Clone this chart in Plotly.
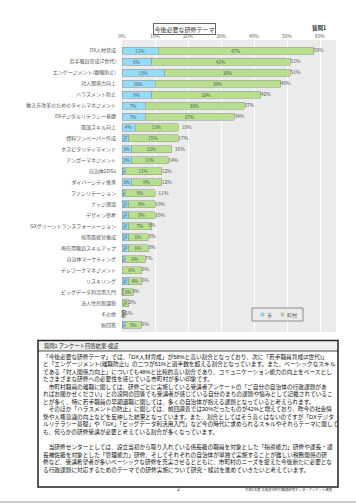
import plotly.graph_objects as go

W, H = 356, 504

categories = [
    "DX人材育成", "若手職員育成(Z世代)", "エンゲージメント(離職防止)", "対人関係力向上",
    "ハラスメント防止", "働き方改革のためのタイムマネジメント", "DXデジタルリテラシー基礎",
    "面談スキル向上", "資料ワンペーパー作成", "ホスピタリティマインド", "アンガーマネジメント",
    "自治体SDGs", "ダイバーシティ推進", "ファシリテーション", "ナッジ理論", "デザイン思考",
    "GXグリーントランスフォーメーション", "採用面接官養成", "再任用職員スキルアップ",
    "自治体マーケティング", "テレワークマネジメント", "リスキリング", "ビッグデータ利活用入門",
    "法人住民税課税", "その他", "無回答",
]
city = [11, 9, 13, 10, 9, 7, 7, 4, 2, 3, 3, 1, 3, 1, 2, 2, 2, 2, 2, 1, 0, 2, 0.4, 0, 0.5, 1]
town = [47, 42, 38, 38, 33, 30, 27, 13, 15, 12, 11, 11, 9, 9, 8, 8, 7, 6, 6, 6, 6, 4, 3, 2, 0.5, 5]
total = [58, 51, 51, 48, 42, 37, 34, 18, 17, 16, 14, 12, 12, 11, 10, 10, 8, 8, 8, 7, 6, 6, 3, 2, 1, 6]
x_ticks = [0, 10, 20, 30, 40, 50, 60]
series_names = ["市", "町村"]
series_colors = ["#94dcf8", "#b8df8e"]

body_lines = [
    "「今後必要な研修テーマ」では、「DX人材育成」が58%と高い割合となっており、次に「若手職員育成(Z世代)」",
    "と「エンゲージメント(離職防止)」の二つが51%と過半数を超える割合となっています。また、ベーシックなスキル",
    "である「対人関係力向上」についても48%と比較的高い割合であり、コミュニケーション能力の向上をベースとし",
    "たさまざまな研修への必要性を感じている市町村が多い印象です。",
    "　市町村職員の離職に関しては、研修ごとに実施している受講者アンケートの「ご自分の自治体の行政課題があ",
    "ればお聞かせください」との設問の回答でも受講者が感じている自分のまちの課題や悩みとして記載されているこ",
    "とが多く、特に若手職員の早期退職に関しては、多くの自治体が抱える課題となっていると考えられます。",
    "　そのほか「ハラスメントの防止」に関しては、前回調査では30%だったものが42%と増えており、昨今の社会情",
    "勢や人権意識の向上などを反映した結果となっています。また、割合としてはそう高くはないのですが「DXデジタ",
    "ルリテラシー基礎」や「GX」「ビッグデータ利活用入門」など今の時代に求められるスキルやそれらテーマに関して",
    "も、何らかの研修受講が必要と考えている割合が多くなっています。",
    "",
    "　当研修センターとしては、設立当初から取り入れている係長級の職員を対象とした「指導能力」研修や課長・課",
    "長補佐級を対象とした「管理能力」研修、そしてそれぞれの自治体が単独で実施することが難しい税務関係の研",
    "修など、受講希望者が多いベーシックな研修を充実させるとともに、市町村のニーズを捉えた今後新たに必要とな",
    "る行政課題に対応するためのテーマでの研修実施について研究・検討を進めていきたいと考えています。",
]

FONT = "Noto Sans CJK JP"
BODY_FONT = "Liberation Sans, Noto Sans CJK JP"


def px(x):
    return x / W


def py(y):
    return 1 - y / H


def pct_text(vals):
    return ["" if v <= 0 else f"{round(v) if v >= 0.5 else 0}%" for v in vals]


fig = go.Figure()
for vals, name, col, lc in [(city, series_names[0], series_colors[0], "#8a9aa3"),
                            (town, series_names[1], series_colors[1], "#98a38c")]:
    fig.add_trace(go.Bar(
        y=categories, x=vals, orientation="h", name=name, showlegend=False,
        marker=dict(color=col, line=dict(color=lc, width=0.6)),
        text=pct_text(vals), textposition="inside", insidetextanchor="middle",
        textfont=dict(size=4.6, color="#555555", family=FONT),
        constraintext="none", cliponaxis=False,
    ))
fig.add_trace(go.Scatter(
    y=categories, x=total, mode="text", showlegend=False,
    text=[f"{t}%" for t in total], textposition="middle right",
    textfont=dict(size=5, color="#555555", family=FONT), cliponaxis=False,
    hoverinfo="skip",
))

fig.update_layout(
    width=W, height=H, margin=dict(l=0, r=0, t=0, b=0, autoexpand=False),
    paper_bgcolor="white", plot_bgcolor="#ebebeb",
    barmode="stack", bargap=0.36,
    font=dict(family=FONT, color="#555555"),
    showlegend=False,
    xaxis=dict(
        domain=[px(122), px(336)], range=[0, 64.8], side="top", automargin=False,
        tickvals=x_ticks, ticktext=[f"{v}%" for v in x_ticks],
        tickfont=dict(size=5, color="#666666", family=FONT),
        showgrid=True, gridcolor="white", gridwidth=1, zeroline=False,
        ticks="", fixedrange=True, showline=False,
    ),
    yaxis=dict(
        domain=[py(332), py(40)], range=[25.64, -0.975], automargin=False,
        categoryorder="array", categoryarray=categories,
        tickfont=dict(size=5, color="#555555", family=FONT),
        showgrid=False, ticks="outside", ticklen=4, tickcolor="rgba(0,0,0,0)",
        fixedrange=True, showline=False,
    ),
)

annotations = []
annotations.append(dict(
    x=px(184), y=py(23), xref="paper", yref="paper", text="今後必要な研修テーマ",
    showarrow=False, font=dict(size=6, color="#333333", family=FONT),
    bordercolor="#666666", borderwidth=1, borderpad=0.5, bgcolor="white",
))
annotations.append(dict(
    x=px(328), y=py(22), xref="paper", yref="paper", text="<b>質問1</b>",
    showarrow=False, font=dict(size=5.5, color="#333333", family=FONT),
))
leg_items_x = [261, 281]
for name, col, lx in zip(series_names, series_colors, leg_items_x):
    annotations.append(dict(
        x=px(lx + 4), y=py(314.5), xref="paper", yref="paper", text=name,
        showarrow=False, xanchor="left", yanchor="middle",
        font=dict(size=5, color="#555555", family=FONT),
    ))
annotations.append(dict(
    x=px(42), y=py(346), xref="paper", yref="paper", text="質問1 アンケート回答結果-検証",
    showarrow=False, xanchor="left", yanchor="middle",
    font=dict(size=5.3, color="#222222", family=FONT),
))
y0, dy = 356.5, 7.55
for i, line in enumerate(body_lines):
    if not line:
        continue
    annotations.append(dict(
        x=px(40.5), y=py(y0 + i * dy), xref="paper", yref="paper", text=line,
        showarrow=False, xanchor="left", yanchor="middle", align="left",
        font=dict(size=5.7, color="#111111", family=BODY_FONT),
    ))
annotations.append(dict(
    x=px(178), y=py(494), xref="paper", yref="paper", text="2",
    showarrow=False, font=dict(size=5, color="#444444", family=FONT),
))
annotations.append(dict(
    x=px(335), y=py(494), xref="paper", yref="paper",
    text="令和5年度 北海道市町村職員研修センターアンケート調査",
    showarrow=False, xanchor="right", font=dict(size=3.4, color="#444444", family=FONT),
))
fig.update_layout(annotations=annotations)

shapes = [
    dict(type="rect", xref="paper", yref="paper", x0=px(252), x1=px(303), y0=py(321), y1=py(308),
         line=dict(color="#8c8c8c", width=1), fillcolor="#ebebeb"),
]
for col, lx in zip(series_colors, leg_items_x):
    shapes.append(dict(type="rect", xref="paper", yref="paper", x0=px(lx), x1=px(lx + 3),
                       y0=py(316), y1=py(313), line=dict(color="#8a9aa3", width=0.4), fillcolor=col))
shapes += [
    dict(type="rect", xref="paper", yref="paper", x0=px(38.8), x1=px(337.2), y0=py(351), y1=py(341.3),
         line=dict(width=0), fillcolor="#efefef", layer="below"),
    dict(type="rect", xref="paper", yref="paper", x0=px(38), x1=px(338), y0=py(487), y1=py(340.5),
         line=dict(color="#222222", width=1.5), fillcolor="rgba(0,0,0,0)"),
    dict(type="line", xref="paper", yref="paper", x0=px(38), x1=px(338), y0=py(351), y1=py(351),
         line=dict(color="#222222", width=0.8)),
    dict(type="line", xref="paper", yref="paper", x0=0, x1=1, y0=py(502), y1=py(502),
         line=dict(color="#bbbbbb", width=1.5)),
]
fig.update_layout(shapes=shapes)

fig.write_html(
    "out.html",
    config={"displayModeBar": False, "staticPlot": True},
    post_script="document.body.style.margin='0px';document.body.style.overflow='hidden';",
)
